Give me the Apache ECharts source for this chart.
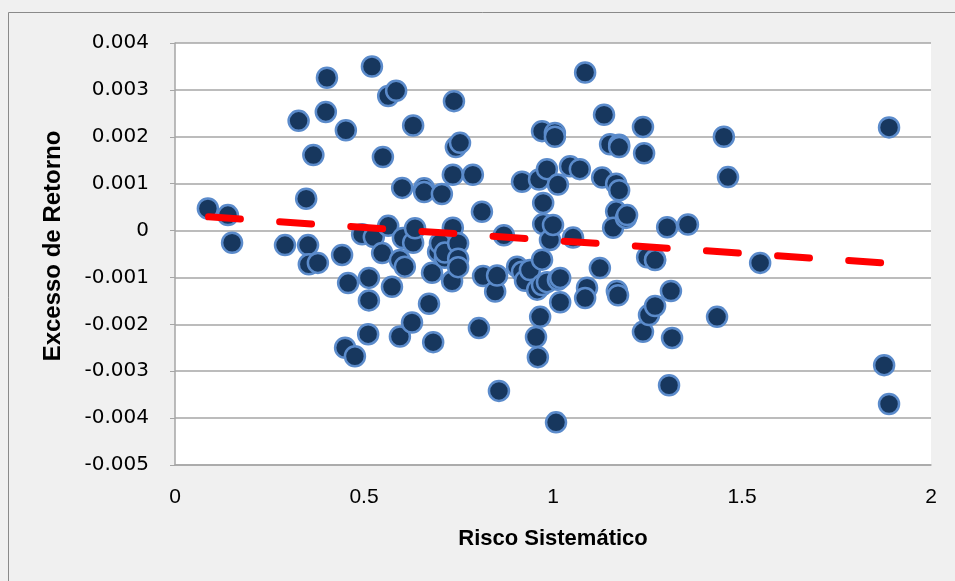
<!DOCTYPE html>
<html>
<head>
<meta charset="utf-8">
<script src="https://cdn.jsdelivr.net/npm/echarts@6/dist/echarts.min.js"></script>
<style>
  html, body { margin: 0; padding: 0; background: #f0f0f0; }
  #main { width: 955px; height: 581px; }
</style>
</head>
<body>
<div id="main"></div>
<script>
// beta (x) of each asset
var risco = [
  0.087, 0.140, 0.151, 0.291, 0.327, 0.347, 0.352, 0.354, 0.366, 0.378,
  0.399, 0.402, 0.442, 0.452, 0.458, 0.450, 0.476, 0.495, 0.513, 0.511,
  0.513, 0.521, 0.526, 0.550, 0.548, 0.564, 0.585, 0.564, 0.574, 0.601,
  0.603, 0.595, 0.595, 0.608, 0.630, 0.630, 0.635, 0.627, 0.659, 0.659,
  0.672, 0.683, 0.680, 0.696, 0.701, 0.706, 0.714, 0.714, 0.735, 0.738,
  0.743, 0.754, 0.733, 0.735, 0.749, 0.749, 0.749, 0.788, 0.804, 0.812,
  0.815, 0.847, 0.852, 0.857, 0.870, 0.905, 0.918, 0.918, 0.926, 0.939,
  0.971, 0.958, 0.955, 0.960, 0.963, 0.966, 0.971, 0.974, 0.974, 0.971,
  0.984, 0.984, 0.992, 1.005, 1.005, 1.000, 1.013, 1.008, 1.013, 1.019,
  1.019, 1.045, 1.053, 1.071, 1.085, 1.090, 1.085, 1.124, 1.130, 1.135,
  1.151, 1.175, 1.167, 1.175, 1.167, 1.159, 1.169, 1.172, 1.193, 1.175,
  1.196, 1.238, 1.238, 1.249, 1.241, 1.254, 1.270, 1.270, 1.270, 1.302,
  1.307, 1.312, 1.315, 1.357, 1.434, 1.452, 1.463, 1.548, 1.876, 1.889,
  1.889
];
// excess return (y) of each asset
var retorno = [
  0.00047, 0.00033, -0.00026, -0.00031, 0.00234, 0.00068, -0.00031, -0.00072, 0.00161, -0.00069,
  0.00253, 0.00326, -0.00052, 0.00214, -0.00112, -0.00250, -0.00268, -0.00008, -0.00101, -0.00221,
  -0.00149, 0.00350, -0.00014, 0.00157, -0.00048, 0.00287, 0.00298, 0.00010, -0.00120, 0.00091,
  -0.00016, -0.00063, -0.00226, -0.00077, 0.00224, -0.00026, 0.00005, -0.00196, 0.00090, 0.00082,
  -0.00156, -0.00238, -0.00090, -0.00045, -0.00027, 0.00078, -0.00058, -0.00047, 0.00119, 0.00276,
  0.00178, 0.00187, -0.00108, 0.00006, -0.00027, -0.00060, -0.00078, 0.00119, -0.00208, 0.00040,
  -0.00097, -0.00130, -0.00096, -0.00342, -0.00010, -0.00077, 0.00104, -0.00088, -0.00107, -0.00084,
  -0.00062, -0.00126, -0.00227, -0.00270, 0.00109, -0.00184, 0.00212, 0.00059, 0.00014, -0.00116,
  0.00131, -0.00110, -0.00020, 0.00208, 0.00200, 0.00012, 0.00098, -0.00409, -0.00105, -0.00153,
  -0.00101, 0.00137, -0.00015, 0.00131, 0.00337, -0.00122, -0.00144, -0.00080, 0.00113, 0.00247,
  0.00184, 0.00183, 0.00100, 0.00086, 0.00041, 0.00006, -0.00129, -0.00138, 0.00027, 0.00178,
  0.00033, 0.00221, -0.00216, -0.00057, 0.00165, -0.00180, -0.00062, -0.00161, -0.00063, 0.00007,
  -0.00330, -0.00129, -0.00229, 0.00013, -0.00184, 0.00200, 0.00114, -0.00069, -0.00287, -0.00370,
  0.00220
];
// linear trendline end points
var tendencia = [[0.0886, 0.000292], [1.889, -0.000699]];

var xTicks = [0, 0.5, 1, 1.5, 2];

var pontos = [];
for (var i = 0; i < risco.length; i++) {
    pontos.push([risco[i], retorno[i]]);
}

var myChart = echarts.init(document.getElementById('main'));
myChart.setOption({
    backgroundColor: '#f0f0f0',
    animation: false,
    graphic: [{
        type: 'rect',
        shape: {x: 8.5, y: 12.5, width: 980, height: 620},
        style: {fill: 'none', stroke: '#8a8a8a', lineWidth: 1},
        z: -1
    }],
    grid: {
        left: 175,
        top: 43,
        right: 24,
        bottom: 116,
        show: true,
        backgroundColor: '#ffffff',
        borderWidth: 0
    },
    xAxis: {
        type: 'value',
        min: 0,
        max: 2,
        interval: 0.5,
        name: 'Risco Sistemático',
        nameLocation: 'middle',
        nameGap: 63,
        nameTextStyle: {
            fontFamily: 'Liberation Sans Narrow, Liberation Sans',
            fontWeight: 'bold',
            fontSize: 22,
            color: '#000'
        },
        axisLine: {onZero: false, lineStyle: {color: '#a6a6a6', width: 1.5}},
        axisTick: {show: false},
        splitLine: {show: false},
        axisLabel: {
            margin: 22,
            fontFamily: 'Liberation Sans Narrow, Liberation Sans',
            fontSize: 21,
            color: '#000',
            formatter: function (v) { return xTicks.indexOf(v) >= 0 ? String(v) : ''; }
        }
    },
    yAxis: {
        type: 'value',
        min: -0.005,
        max: 0.004,
        interval: 0.001,
        name: 'Excesso de Retorno',
        nameLocation: 'middle',
        nameGap: 110,
        nameTextStyle: {
            fontFamily: 'Liberation Sans',
            fontWeight: 'bold',
            fontSize: 24,
            color: '#000',
            padding: [0, 0, 0, 16]
        },
        axisLine: {show: true, lineStyle: {color: '#a6a6a6', width: 1.5}},
        axisTick: {show: true, inside: false, length: 5, lineStyle: {color: '#a6a6a6'}},
        splitLine: {lineStyle: {color: '#a6a6a6', width: 1.5}},
        axisLabel: {
            margin: 26,
            fontFamily: 'DejaVu Sans',
            fontSize: 20,
            color: '#000',
            formatter: function (v) {
                var r = Math.round(v * 1000) / 1000;
                return r === 0 ? '0' : r.toFixed(3);
            }
        }
    },
    series: [{
        name: 'ativos',
        type: 'scatter',
        symbol: 'circle',
        symbolSize: 20,
        itemStyle: {
            color: '#17375e',
            borderColor: '#5b8bcb',
            borderWidth: 2.5,
            opacity: 1
        },
        data: pontos,
        z: 2
    }, {
        name: 'tendencia',
        type: 'line',
        showSymbol: false,
        lineStyle: {
            color: '#ff0000',
            width: 7,
            type: [32, 39.3],
            cap: 'round'
        },
        data: tendencia,
        z: 3
    }]
});
</script>
</body>
</html>
